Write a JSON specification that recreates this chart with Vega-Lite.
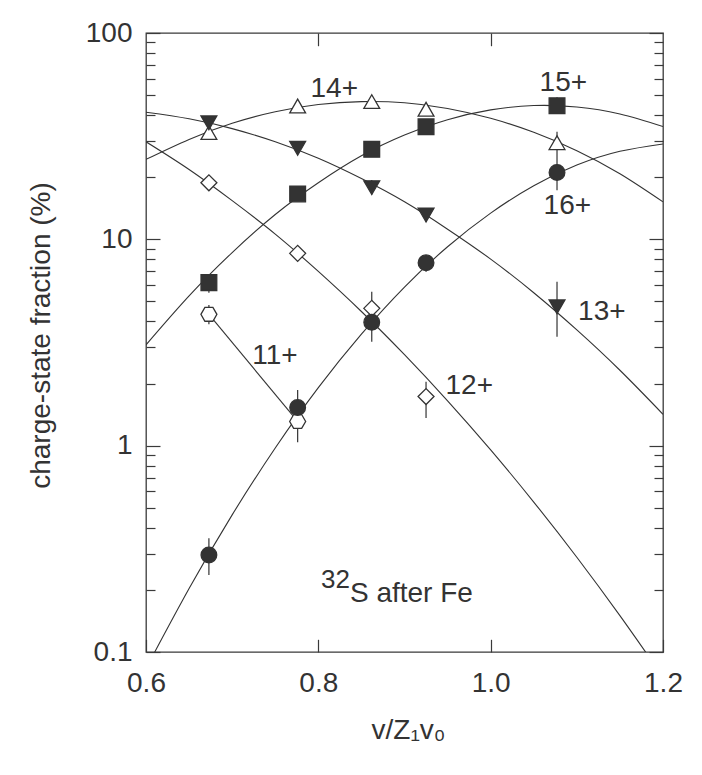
{
  "$schema": "https://vega.github.io/schema/vega-lite/v6.json",
  "width": 517,
  "height": 619,
  "autosize": {"type": "none"},
  "padding": {"left": 146, "top": 33, "right": 39, "bottom": 123},
  "background": "white",
  "config": {
    "view": {"stroke": "#3a3a3a", "strokeWidth": 1.3},
    "font": "Liberation Sans",
    "axis": {
      "domain": false, "grid": false,
      "labelFont": "Liberation Sans", "labelFontSize": 28, "labelColor": "#333",
      "tickColor": "#3a3a3a", "tickWidth": 1.2,
      "titleFont": "Liberation Sans", "titleFontSize": 28, "titleColor": "#333", "titleFontWeight": "normal",
      "labelFlush": false, "labelOverlap": false, "labelBound": false
    }
  },
  "datasets": {
    "curves": [
      {"s": "12+", "x": 0.60, "y": 29.7}, {"s": "12+", "x": 0.65, "y": 21.8}, {"s": "12+", "x": 0.70, "y": 15.4},
      {"s": "12+", "x": 0.75, "y": 10.6}, {"s": "12+", "x": 0.80, "y": 6.99}, {"s": "12+", "x": 0.85, "y": 4.47},
      {"s": "12+", "x": 0.90, "y": 2.76}, {"s": "12+", "x": 0.95, "y": 1.65}, {"s": "12+", "x": 1.00, "y": 0.954},
      {"s": "12+", "x": 1.05, "y": 0.533}, {"s": "12+", "x": 1.10, "y": 0.288}, {"s": "12+", "x": 1.15, "y": 0.150},
      {"s": "12+", "x": 1.20, "y": 0.0757},
      {"s": "13+", "x": 0.60, "y": 41.3}, {"s": "13+", "x": 0.65, "y": 38.4}, {"s": "13+", "x": 0.70, "y": 34.4},
      {"s": "13+", "x": 0.75, "y": 29.7}, {"s": "13+", "x": 0.80, "y": 24.7}, {"s": "13+", "x": 0.85, "y": 19.7},
      {"s": "13+", "x": 0.90, "y": 15.2}, {"s": "13+", "x": 0.95, "y": 11.2}, {"s": "13+", "x": 1.00, "y": 8.02},
      {"s": "13+", "x": 1.05, "y": 5.51}, {"s": "13+", "x": 1.10, "y": 3.64}, {"s": "13+", "x": 1.15, "y": 2.32},
      {"s": "13+", "x": 1.20, "y": 1.42},
      {"s": "14+", "x": 0.60, "y": 24.4}, {"s": "14+", "x": 0.65, "y": 30.5}, {"s": "14+", "x": 0.70, "y": 36.5},
      {"s": "14+", "x": 0.75, "y": 41.5}, {"s": "14+", "x": 0.80, "y": 45.0}, {"s": "14+", "x": 0.85, "y": 46.5},
      {"s": "14+", "x": 0.90, "y": 45.9}, {"s": "14+", "x": 0.95, "y": 43.1}, {"s": "14+", "x": 1.00, "y": 38.6},
      {"s": "14+", "x": 1.05, "y": 33.0}, {"s": "14+", "x": 1.10, "y": 26.9}, {"s": "14+", "x": 1.15, "y": 20.8},
      {"s": "14+", "x": 1.20, "y": 15.2},
      {"s": "15+", "x": 0.60, "y": 3.08}, {"s": "15+", "x": 0.65, "y": 5.32}, {"s": "15+", "x": 0.70, "y": 8.63},
      {"s": "15+", "x": 0.75, "y": 13.2}, {"s": "15+", "x": 0.80, "y": 18.8}, {"s": "15+", "x": 0.85, "y": 25.4},
      {"s": "15+", "x": 0.90, "y": 32.0}, {"s": "15+", "x": 0.95, "y": 38.0}, {"s": "15+", "x": 1.00, "y": 42.4},
      {"s": "15+", "x": 1.05, "y": 44.5}, {"s": "15+", "x": 1.10, "y": 43.8}, {"s": "15+", "x": 1.15, "y": 40.5},
      {"s": "15+", "x": 1.20, "y": 35.2},
      {"s": "16+", "x": 0.60, "y": 0.0832}, {"s": "16+", "x": 0.65, "y": 0.203}, {"s": "16+", "x": 0.70, "y": 0.462},
      {"s": "16+", "x": 0.75, "y": 0.974}, {"s": "16+", "x": 0.80, "y": 1.91}, {"s": "16+", "x": 0.85, "y": 3.47},
      {"s": "16+", "x": 0.90, "y": 5.87}, {"s": "16+", "x": 0.95, "y": 9.21}, {"s": "16+", "x": 1.00, "y": 13.4},
      {"s": "16+", "x": 1.05, "y": 18.2}, {"s": "16+", "x": 1.10, "y": 22.9}, {"s": "16+", "x": 1.15, "y": 26.7},
      {"s": "16+", "x": 1.20, "y": 29.0}
    ],
    "pts": [
      {"s": "11+", "x": 0.673, "y": 4.33}, {"s": "11+", "x": 0.776, "y": 1.31},
      {"s": "12+", "x": 0.673, "y": 18.8}, {"s": "12+", "x": 0.776, "y": 8.55}, {"s": "12+", "x": 0.862, "y": 4.63}, {"s": "12+", "x": 0.925, "y": 1.73},
      {"s": "14+", "x": 0.673, "y": 32.9}, {"s": "14+", "x": 0.776, "y": 44.3}, {"s": "14+", "x": 0.862, "y": 46.5}, {"s": "14+", "x": 0.925, "y": 42.7}, {"s": "14+", "x": 1.077, "y": 29.4},
      {"s": "13+", "x": 0.673, "y": 36.7}, {"s": "13+", "x": 0.776, "y": 27.6}, {"s": "13+", "x": 0.862, "y": 17.8}, {"s": "13+", "x": 0.925, "y": 13.1}, {"s": "13+", "x": 1.077, "y": 4.71},
      {"s": "15+", "x": 0.673, "y": 6.17}, {"s": "15+", "x": 0.776, "y": 16.6}, {"s": "15+", "x": 0.862, "y": 27.3}, {"s": "15+", "x": 0.925, "y": 35.1}, {"s": "15+", "x": 1.077, "y": 44.4},
      {"s": "16+", "x": 0.673, "y": 0.295}, {"s": "16+", "x": 0.776, "y": 1.53}, {"s": "16+", "x": 0.862, "y": 3.96}, {"s": "16+", "x": 0.925, "y": 7.7}, {"s": "16+", "x": 1.077, "y": 21.1}
    ],
    "errs": [
      {"x": 0.673, "lo": 3.88, "hi": 4.81}, {"x": 0.673, "lo": 5.51, "hi": 6.71}, {"x": 0.673, "lo": 0.236, "hi": 0.356},
      {"x": 0.776, "lo": 1.04, "hi": 1.86}, {"x": 0.862, "lo": 3.19, "hi": 5.57}, {"x": 0.862, "lo": 16.5, "hi": 19.4},
      {"x": 0.925, "lo": 1.36, "hi": 2.04}, {"x": 0.925, "lo": 6.97, "hi": 8.4}, {"x": 0.925, "lo": 33.2, "hi": 37.6},
      {"x": 0.925, "lo": 12.2, "hi": 14.2}, {"x": 1.077, "lo": 40.8, "hi": 48.8}, {"x": 1.077, "lo": 17.3, "hi": 33.2},
      {"x": 1.077, "lo": 3.37, "hi": 6.23}
    ],
    "labels": [
      {"t": "14+", "x": 0.8185, "y": 48.8}, {"t": "15+", "x": 1.0843, "y": 52.5}, {"t": "16+", "x": 1.089, "y": 13.3},
      {"t": "13+", "x": 1.129, "y": 4.06}, {"t": "11+", "x": 0.7497, "y": 2.49}, {"t": "12+", "x": 0.9752, "y": 1.78}
    ],
    "ann": [{"t": "S after Fe", "x": 0.8367, "y": 0.1746}],
    "sup": [{"t": "32", "x": 0.8367, "y": 0.2033}]
  },
  "layer": [
    {
      "data": {"name": "curves"},
      "mark": {"type": "line", "interpolate": "natural", "stroke": "#333", "strokeWidth": 1.1, "clip": true},
      "encoding": {
        "x": {"field": "x", "type": "quantitative", "scale": {"domain": [0.6, 1.2], "nice": false, "zero": false},
          "axis": {"orient": "bottom", "values": [0.6, 0.8, 1.0, 1.2], "format": ".1f", "tickSize": -12.7, "labelPadding": 30,
            "title": "v/Z₁v₀", "titleX": 262, "titleY": 86, "titleBaseline": "alphabetic", "titleAlign": "center"}},
        "y": {"field": "y", "type": "quantitative", "scale": {"type": "log", "domain": [0.1, 100], "nice": false},
          "axis": {"orient": "left",
            "values": [0.1, 0.2, 0.3, 0.4, 0.5, 0.6, 0.7, 0.8, 0.9, 1, 2, 3, 4, 5, 6, 7, 8, 9, 10, 20, 30, 40, 50, 60, 70, 80, 90, 100],
            "labelExpr": "(datum.value == 0.1 || datum.value == 1 || datum.value == 10 || datum.value == 100) ? datum.label : ''",
            "format": "~g",
            "tickSize": {"condition": {"test": "datum.value == 0.1 || datum.value == 1 || datum.value == 10 || datum.value == 100", "value": -14}, "value": -9},
            "labelPadding": 28, "labelBaseline": "middle",
            "title": "charge-state fraction (%)", "titleX": -96.7, "titleY": 302, "titleAngle": -90,
            "titleBaseline": "alphabetic", "titleAlign": "center"}},
        "detail": {"field": "s", "type": "nominal"}
      }
    },
    {
      "data": {"name": "pts"},
      "transform": [{"filter": "datum.s == '11+'"}],
      "mark": {"type": "line", "stroke": "#333", "strokeWidth": 1.1, "clip": true},
      "encoding": {
        "x": {"field": "x", "type": "quantitative", "scale": {"domain": [0.6, 1.2], "nice": false, "zero": false},
          "axis": {"orient": "top", "values": [0.8, 1.0], "labels": false, "tickSize": -12.7, "title": null}},
        "y": {"field": "y", "type": "quantitative", "scale": {"type": "log", "domain": [0.1, 100], "nice": false},
          "axis": {"orient": "right", "labels": false, "title": null,
            "values": [0.1, 0.2, 0.3, 0.4, 0.5, 0.6, 0.7, 0.8, 0.9, 1, 2, 3, 4, 5, 6, 7, 8, 9, 10, 20, 30, 40, 50, 60, 70, 80, 90, 100],
            "tickSize": {"condition": {"test": "datum.value == 0.1 || datum.value == 1 || datum.value == 10 || datum.value == 100", "value": -14}, "value": -9}}}
      }
    },
    {
      "data": {"name": "errs"},
      "mark": {"type": "rule", "stroke": "#333", "strokeWidth": 1.2},
      "encoding": {
        "x": {"field": "x", "type": "quantitative", "scale": {"domain": [0.6, 1.2], "nice": false, "zero": false}, "axis": null},
        "y": {"field": "lo", "type": "quantitative", "scale": {"type": "log", "domain": [0.1, 100], "nice": false}, "axis": null},
        "y2": {"field": "hi"}
      }
    },
    {
      "data": {"name": "pts"},
      "mark": {"type": "point", "filled": true, "stroke": "#333", "strokeWidth": 1.3, "opacity": 1},
      "encoding": {
        "x": {"field": "x", "type": "quantitative", "scale": {"domain": [0.6, 1.2], "nice": false, "zero": false}, "axis": null},
        "y": {"field": "y", "type": "quantitative", "scale": {"type": "log", "domain": [0.1, 100], "nice": false}, "axis": null},
        "shape": {"field": "s", "type": "nominal", "legend": null,
          "scale": {"domain": ["11+", "12+", "13+", "14+", "15+", "16+"],
            "range": ["M-1,0L-0.5,-0.866L0.5,-0.866L1,0L0.5,0.866L-0.5,0.866Z", "diamond", "triangle-down", "triangle-up", "square", "circle"]}},
        "fill": {"field": "s", "type": "nominal", "legend": null,
          "scale": {"domain": ["11+", "12+", "13+", "14+", "15+", "16+"], "range": ["white", "white", "#333", "white", "#333", "#333"]}},
        "size": {"field": "s", "type": "ordinal", "legend": null,
          "scale": {"domain": ["11+", "12+", "13+", "14+", "15+", "16+"], "range": [256, 246, 170, 170, 137, 156]}}
      }
    },
    {
      "data": {"name": "labels"},
      "mark": {"type": "text", "font": "Liberation Sans", "fontSize": 28, "fill": "#333", "align": "center", "baseline": "alphabetic"},
      "encoding": {
        "x": {"field": "x", "type": "quantitative", "scale": {"domain": [0.6, 1.2], "nice": false, "zero": false}, "axis": null},
        "y": {"field": "y", "type": "quantitative", "scale": {"type": "log", "domain": [0.1, 100], "nice": false}, "axis": null},
        "text": {"field": "t", "type": "nominal"}
      }
    },
    {
      "data": {"name": "ann"},
      "mark": {"type": "text", "font": "Liberation Sans", "fontSize": 28, "fill": "#333", "align": "left", "baseline": "alphabetic"},
      "encoding": {
        "x": {"field": "x", "type": "quantitative", "scale": {"domain": [0.6, 1.2], "nice": false, "zero": false}, "axis": null},
        "y": {"field": "y", "type": "quantitative", "scale": {"type": "log", "domain": [0.1, 100], "nice": false}, "axis": null},
        "text": {"field": "t", "type": "nominal"}
      }
    },
    {
      "data": {"name": "sup"},
      "mark": {"type": "text", "font": "Liberation Sans", "fontSize": 26, "fill": "#333", "align": "right", "baseline": "alphabetic"},
      "encoding": {
        "x": {"field": "x", "type": "quantitative", "scale": {"domain": [0.6, 1.2], "nice": false, "zero": false}, "axis": null},
        "y": {"field": "y", "type": "quantitative", "scale": {"type": "log", "domain": [0.1, 100], "nice": false}, "axis": null},
        "text": {"field": "t", "type": "nominal"}
      }
    }
  ],
  "resolve": {"axis": {"x": "independent", "y": "independent"}}
}
